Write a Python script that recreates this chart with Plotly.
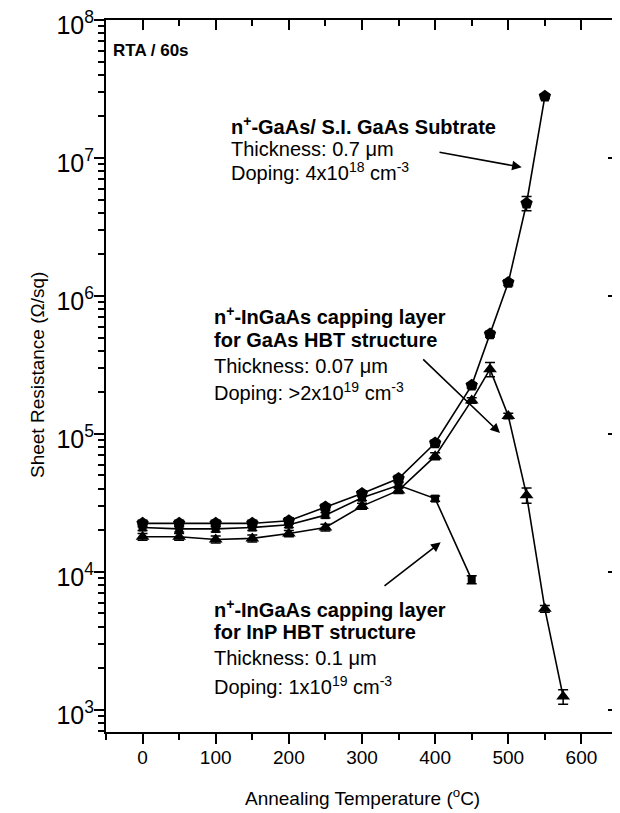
import plotly.graph_objects as go

# ---------------- data ----------------
temps_sub = [0, 50, 100, 150, 200, 250, 300, 350, 400, 450, 475, 500, 525, 550]
rs_sub = [2.25e4, 2.25e4, 2.25e4, 2.25e4, 2.35e4, 2.95e4, 3.7e4, 4.75e4, 8.6e4,
          2.25e5, 5.3e5, 1.25e6, 4.7e6, 2.8e7]
err_sub = [1.2e3, 1.2e3, 1.2e3, 1.2e3, 1.2e3, 1.5e3, 1.8e3, 2.5e3, 4e3,
           1e4, 2.5e4, 6e4, 5.5e5, 1e6]

temps_inp = [0, 50, 100, 150, 200, 250, 300, 350, 400, 450]
rs_inp = [2.1e4, 2.05e4, 2.05e4, 2.1e4, 2.2e4, 2.58e4, 3.45e4, 4.25e4, 3.4e4, 8.8e3]
err_inp = [1e3, 1e3, 1e3, 1e3, 1e3, 1.2e3, 1.5e3, 2e3, 1.5e3, 6e2]

temps_hbt = [0, 50, 100, 150, 200, 250, 300, 350, 400, 450, 475, 500, 525, 550, 575]
rs_hbt = [1.8e4, 1.8e4, 1.72e4, 1.75e4, 1.9e4, 2.1e4, 3.0e4, 3.9e4, 6.9e4,
          1.75e5, 2.95e5, 1.35e5, 3.6e4, 5.4e3, 1.25e3]
err_hbt = [1e3, 1e3, 1e3, 1e3, 1e3, 1.2e3, 1.5e3, 2e3, 4e3,
           8e3, 3.5e4, 6e3, 4.5e3, 3e2, 1.5e2]

x_ticks = [0, 100, 200, 300, 400, 500, 600]
y_ticks = [1e3, 1e4, 1e5, 1e6, 1e7, 1e8]
y_ticktext = ["10<sup>3</sup>", "10<sup>4</sup>", "10<sup>5</sup>",
              "10<sup>6</sup>", "10<sup>7</sup>", "10<sup>8</sup>"]

FONT = "Arial, Liberation Sans, sans-serif"

fig = go.Figure()

def add_series(x, y, e, symbol, size):
    fig.add_trace(go.Scatter(
        x=x, y=y, mode="lines+markers",
        line=dict(color="black", width=1.6),
        marker=dict(symbol=symbol, size=size, color="black"),
        error_y=dict(type="data", array=e, visible=True, color="black",
                     thickness=1.5, width=5),
        showlegend=False, hoverinfo="skip"))

add_series(temps_hbt, rs_hbt, err_hbt, "triangle-up", 12)
add_series(temps_inp, rs_inp, err_inp, "square", 8)
add_series(temps_sub, rs_sub, err_sub, "pentagon", 13)

# invisible trace to anchor mirror axes
fig.add_trace(go.Scatter(x=temps_sub, y=rs_sub, xaxis="x2", yaxis="y2",
                         mode="markers", marker=dict(opacity=0),
                         showlegend=False, hoverinfo="skip"))

# page body has an 8px margin: figure is drawn shifted by OFF px
OFF = 8
L, R, T, B = 98, 10, 12, 89
W, H = 620, 813
PW, PH = W - L - R, H - T - B

def px(xs):
    return (xs - OFF - L) / PW

def py(ys):
    return (H - B - (ys - OFF)) / PH

yr = [2.84, 8]
xr = [-50, 650]

common_x = dict(range=xr, showline=True, linewidth=2, linecolor="black",
                showgrid=False, zeroline=False, tickwidth=1.5, tickcolor="black",
                tick0=0, dtick=100, automargin=False)
fig.update_layout(
    width=W, height=H,
    margin=dict(l=L, r=R, t=T, b=B, autoexpand=False),
    plot_bgcolor="white", paper_bgcolor="white",
    font=dict(family=FONT, color="black"),
    xaxis=dict(**common_x, ticks="outside", ticklen=10,
               tickvals=x_ticks, tickmode="array", ticklabelstandoff=-3,
               ticklabeloverflow="allow",
               tickfont=dict(size=19),
               minor=dict(ticks="outside", ticklen=6, dtick=50, tick0=0,
                          tickwidth=1.5, tickcolor="black")),
    xaxis2=dict(**common_x, overlaying="x", side="top", anchor="y2",
                ticks="inside", ticklen=10, showticklabels=False,
                minor=dict(ticks="inside", ticklen=6, dtick=50, tick0=0,
                           tickwidth=1.5, tickcolor="black")),
    yaxis=dict(type="log", range=yr, showline=True, linewidth=2, linecolor="black",
               showgrid=False, zeroline=False, ticks="outside", ticklen=10,
               tickwidth=1.5, tickcolor="black", automargin=False,
               tickmode="array", tickvals=y_ticks, ticktext=y_ticktext,
               ticklabelstandoff=-5, ticklabelshift=5, ticklabeloverflow="allow",
               tickfont=dict(size=25),
               minor=dict(ticks="outside", ticklen=6, dtick="D1",
                          tickwidth=1.5, tickcolor="black")),
    yaxis2=dict(type="log", range=yr, overlaying="y", side="right", anchor="x2",
                showline=True, linewidth=2, linecolor="black", automargin=False,
                showgrid=False, zeroline=False, ticks="inside", ticklen=10,
                tickwidth=1.5, tickcolor="black", showticklabels=False,
                dtick=1,
                minor=dict(ticks="inside", ticklen=6, dtick="D1",
                           tickwidth=1.5, tickcolor="black")),
)

ann = []

def text(xs, ys, s, size=20):
    ann.append(dict(x=px(xs), y=py(ys), xref="paper", yref="paper",
                    text=s, showarrow=False, xanchor="left", yanchor="middle",
                    font=dict(size=size, family=FONT, color="black")))

text(111, 50, "<b>RTA / 60s</b>", 17)

text(229, 125, "<b>n<sup>+</sup>-GaAs/ S.I. GaAs Subtrate</b>")
text(229, 149, "Thickness: 0.7 μm")
text(229, 172, "Doping: 4x10<sup>18</sup> cm<sup>-3</sup>")

text(212, 315, "<b>n<sup>+</sup>-InGaAs capping layer</b>")
text(212, 340, "<b>for GaAs HBT structure</b>")
text(212, 366, "Thickness: 0.07 μm")
text(212, 391, "Doping: >2x10<sup>19</sup> cm<sup>-3</sup>")

text(212, 608, "<b>n<sup>+</sup>-InGaAs capping layer</b>")
text(212, 632, "<b>for InP HBT structure</b>")
text(212, 658, "Thickness: 0.1 μm")
text(212, 685, "Doping: 1x10<sup>19</sup> cm<sup>-3</sup>")

def arrow(hx, hy, tx, ty):
    ann.append(dict(x=px(hx), y=py(hy), xref="paper", yref="paper",
                    ax=tx - hx, ay=ty - hy, axref="pixel", ayref="pixel",
                    text="", showarrow=True, arrowhead=2, arrowsize=1.2,
                    arrowwidth=1.6, arrowcolor="black"))

arrow(521.7, 167.3, 438, 152)
arrow(500, 433, 421.7, 358)
arrow(440.7, 542.3, 383, 587)

# axis titles
ann.append(dict(x=px(362), y=py(797), xref="paper", yref="paper",
                text="Annealing Temperature (<sup>o</sup>C)", showarrow=False,
                xanchor="center", yanchor="middle",
                font=dict(size=19, family=FONT, color="black")))
ann.append(dict(x=px(37), y=py(375), xref="paper", yref="paper",
                text="Sheet Resistance (Ω/sq)", showarrow=False, textangle=-90,
                xanchor="center", yanchor="middle",
                font=dict(size=19, family=FONT, color="black")))

fig.update_layout(annotations=ann)
fig.write_html("out.html")
